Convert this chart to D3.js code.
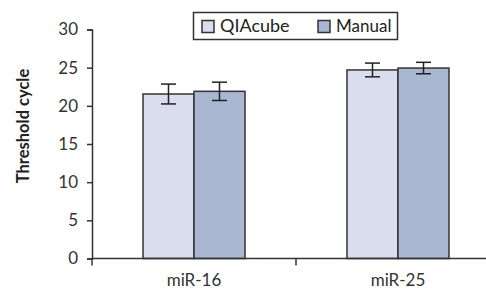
<!DOCTYPE html>
<html>
<head>
<meta charset="utf-8">
<script src="https://cdn.jsdelivr.net/npm/d3@7"></script>
<style>
  body { margin: 0; background: #fff; }
  svg { display: block; font-family: Lato, "Open Sans", sans-serif; }
</style>
</head>
<body>
<svg></svg>
<script>
const categories = ['miR-16', 'miR-25'];
const seriesNames = ['QIAcube', 'Manual'];
const qiacube = [21.55, 24.7];
const qiacubeErr = [1.3, 0.9];
const manual = [21.9, 24.95];
const manualErr = [1.2, 0.75];
const yTicks = [0, 5, 10, 15, 20, 25, 30];

const width = 486;
const height = 289;
const colors = ['#d9dded', '#a9b7d2'];
const ink = '#333';

const svg = d3.select('svg')
  .attr('width', width)
  .attr('height', height);

const yScale = d3.scaleLinear()
  .domain([0, 30])
  .range([258.5, 29.5]);

const xScale = d3.scaleBand()
  .domain(categories)
  .range([92, 500]);

const inner = d3.scaleBand()
  .domain(seriesNames)
  .range([0, 102]);

const series = [
  { name: 'QIAcube', values: qiacube, err: qiacubeErr, color: colors[0] },
  { name: 'Manual', values: manual, err: manualErr, color: colors[1] }
];

// bars
series.forEach(s => {
  const offset = (xScale.bandwidth() - 102) / 2 + inner(s.name);
  svg.append('g')
    .selectAll('rect')
    .data(categories)
    .enter()
    .append('rect')
    .attr('x', d => xScale(d) + offset)
    .attr('y', (d, i) => yScale(s.values[i]))
    .attr('width', inner.bandwidth())
    .attr('height', (d, i) => yScale(0) - yScale(s.values[i]))
    .style('fill', s.color)
    .attr('stroke', ink)
    .attr('stroke-width', 1.5);

  // error bars
  const eb = svg.append('g')
    .attr('stroke', '#222')
    .attr('stroke-width', 1.5);
  categories.forEach((c, i) => {
    const cx = xScale(c) + offset + inner.bandwidth() / 2;
    const hi = yScale(s.values[i] + s.err[i]);
    const lo = yScale(s.values[i] - s.err[i]);
    eb.append('line').attr('x1', cx).attr('x2', cx).attr('y1', hi).attr('y2', lo);
    eb.append('line').attr('x1', cx - 7.5).attr('x2', cx + 7.5).attr('y1', hi).attr('y2', hi);
    eb.append('line').attr('x1', cx - 7.5).attr('x2', cx + 7.5).attr('y1', lo).attr('y2', lo);
  });
});

// y axis
const yAxis = d3.axisLeft(yScale)
  .tickValues(yTicks)
  .tickSize(5)
  .tickPadding(9)
  .tickFormat(d3.format('d'));

const yg = svg.append('g')
  .attr('transform', 'translate(92,0)')
  .call(yAxis);
yg.select('.domain').attr('stroke', ink).attr('stroke-width', 1.5);
yg.selectAll('.tick line').attr('stroke', ink).attr('stroke-width', 1.5);
yg.selectAll('.tick text')
  .attr('font-size', 17)
  .attr('fill', '#333')
  .style('font-family', 'Lato, sans-serif');

// x axis
const xg = svg.append('g')
  .attr('transform', 'translate(0,258.5)');
xg.append('line')
  .attr('x1', 92).attr('x2', 500)
  .attr('stroke', ink).attr('stroke-width', 1.5);
xg.selectAll('.sep')
  .data([categories[0], categories[1]])
  .enter()
  .append('line')
  .attr('x1', d => xScale(d)).attr('x2', d => xScale(d))
  .attr('y1', 0).attr('y2', 7)
  .attr('stroke', ink).attr('stroke-width', 1.5);
xg.selectAll('.lbl')
  .data(categories)
  .enter()
  .append('text')
  .attr('x', d => xScale(d) + xScale.bandwidth() / 2)
  .attr('y', 27)
  .attr('text-anchor', 'middle')
  .attr('font-size', 17)
  .attr('fill', '#333')
  .text(d => d);

// y title
svg.append('text')
  .attr('transform', 'translate(29,126) rotate(-90)')
  .attr('text-anchor', 'middle')
  .attr('font-size', 16.5)
  .attr('font-weight', 'bold')
  .attr('fill', '#222')
  .text('Threshold cycle');

// legend
const legend = svg.append('g');
legend.append('rect')
  .attr('x', 193.5).attr('y', 12.5)
  .attr('width', 204).attr('height', 27)
  .style('fill', '#fff')
  .attr('stroke', ink).attr('stroke-width', 1.5);

const legendX = [202, 318];
series.forEach((s, i) => {
  legend.append('rect')
    .attr('x', legendX[i]).attr('y', 20.5)
    .attr('width', 12).attr('height', 12)
    .style('fill', s.color)
    .attr('stroke', ink).attr('stroke-width', 1.5);
  legend.append('text')
    .attr('x', legendX[i] + 18)
    .attr('y', 32)
    .attr('font-size', i === 0 ? 18 : 17)
    .attr('fill', '#222')
    .text(s.name);
});
</script>
</body>
</html>
